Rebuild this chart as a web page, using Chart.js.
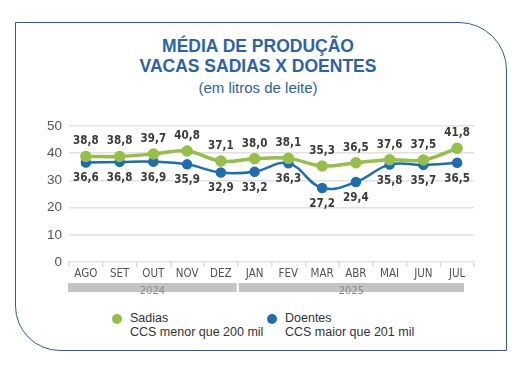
<!DOCTYPE html>
<html>
<head>
<meta charset="utf-8">
<script src="https://cdn.jsdelivr.net/npm/chart.js@4"></script>
<style>
  body { margin: 0; width: 532px; height: 376px; background: #fff; position: relative; overflow: hidden; font-family: 'Liberation Sans', Arial, sans-serif; }
  .card { position: absolute; left: 15px; top: 22px; width: 490px; height: 327px; border: 1.5px solid #2d5c9e; border-radius: 0 48px 0 45px; }
  .title { position: absolute; left: 0; width: 516px; top: 36px; text-align: center; color: #2c63a7; font-weight: bold; font-size: 17.5px; line-height: 20px; }
  .sub { position: absolute; left: 0; width: 516px; top: 79px; text-align: center; color: #2c63a7; font-size: 15px; }
  .chart { position: absolute; left: 20px; top: 110px; width: 480px; height: 200px; }
  .leg { position: absolute; top: 311px; font-size: 12.5px; color: #333; line-height: 14px; }
  .leg .dot { position: absolute; left: -18px; top: 3px; width: 10px; height: 10px; border-radius: 50%; }
</style>
</head>
<body>
<div class="card"></div>
<div class="title">MÉDIA DE PRODUÇÃO<br>VACAS SADIAS X DOENTES</div>
<div class="sub">(em litros de leite)</div>
<div class="chart"><canvas id="myChart"></canvas></div>
<div class="leg" style="left:130px"><span class="dot" style="background:#96bf48"></span>Sadias<br>CCS menor que 200 mil</div>
<div class="leg" style="left:285px"><span class="dot" style="background:#1c6db3"></span>Doentes<br>CCS maior que 201 mil</div>
<script>
const meses = ['AGO', 'SET', 'OUT', 'NOV', 'DEZ', 'JAN', 'FEV', 'MAR', 'ABR', 'MAI', 'JUN', 'JUL'];
const sadias = [38.8, 38.8, 39.7, 40.8, 37.1, 38.0, 38.1, 35.3, 36.5, 37.6, 37.5, 41.8];
const doentes = [36.6, 36.8, 36.9, 35.9, 32.9, 33.2, 36.3, 27.2, 29.4, 35.8, 35.7, 36.5];
const anos = ['2024', '2025'];
const mesesPorAno = [5, 7];

const narrow = "'DejaVu Sans Condensed', 'Liberation Sans', sans-serif";

// value labels above / below the points
const valueLabels = {
    id: 'valueLabels',
    afterDatasetsDraw(chart) {
        const c = chart.ctx;
        c.save();
        c.font = 'bold 11.5px ' + narrow;
        c.fillStyle = '#3a3a3a';
        c.textAlign = 'center';
        c.textBaseline = 'middle';
        chart.data.datasets.forEach((ds, i) => {
            const off = i === 0 ? -15 : 16;
            chart.getDatasetMeta(i).data.forEach((pt, j) => {
                c.fillText(ds.data[j].toFixed(1).replace('.', ','), pt.x, pt.y + off);
            });
        });
        c.restore();
    }
};

// gray year bands under the month labels
const yearBands = {
    id: 'yearBands',
    afterDraw(chart) {
        const c = chart.ctx;
        const x = chart.scales.x;
        const half = (x.getPixelForValue(1) - x.getPixelForValue(0)) / 2;
        let start = 0;
        c.save();
        anos.forEach((ano, k) => {
            const end = start + mesesPorAno[k] - 1;
            let x1 = x.getPixelForValue(start) - half + (k > 0 ? 1 : -1);
            let x2 = x.getPixelForValue(end) + half - (k === anos.length - 1 ? 10 : 1);
            const y = chart.chartArea.bottom + 21;
            c.fillStyle = '#c4c4c4';
            c.fillRect(x1, y, x2 - x1, 9);
            c.fillStyle = '#8a8a8a';
            c.font = '11px ' + narrow;
            c.textAlign = 'center';
            c.textBaseline = 'middle';
            c.fillText(ano, (x1 + x2) / 2, y + 8);
            start = end + 1;
        });
        c.restore();
    }
};

new Chart(document.getElementById('myChart'), {
    type: 'line',
    data: {
        labels: meses,
        datasets: [{
            label: 'Sadias',
            data: sadias,
            borderColor: '#96bf48',
            backgroundColor: '#96bf48',
            borderWidth: 3.5,
            pointRadius: 4,
            tension: 0.4,
            fill: false
        }, {
            label: 'Doentes',
            data: doentes,
            borderColor: '#1c6db3',
            backgroundColor: '#1c6db3',
            borderWidth: 2.5,
            pointRadius: 4,
            tension: 0.4,
            fill: false
        }]
    },
    options: {
        responsive: true,
        maintainAspectRatio: false,
        animation: false,
        layout: { padding: { top: 16, right: 26, bottom: 0, left: 0 } },
        plugins: {
            legend: { display: false },
            tooltip: { enabled: false }
        },
        scales: {
            x: {
                offset: true,
                border: { display: false },
                grid: { offset: true, drawOnChartArea: false, tickLength: 5, color: '#dcdcdc', lineWidth: 1.5 },
                ticks: { color: '#555', font: { size: 11.5, family: narrow }, padding: 0 },
                afterFit(s) { s.height = 48; }
            },
            y: {
                min: 0,
                max: 50,
                border: { display: false },
                grid: { color: '#e2e2e2', lineWidth: 1.5, drawTicks: false },
                ticks: { stepSize: 10, color: '#555', font: { size: 13.5 }, padding: 7 },
                afterFit(s) { s.width = 49; }
            }
        }
    },
    plugins: [valueLabels, yearBands]
});
</script>
</body>
</html>
